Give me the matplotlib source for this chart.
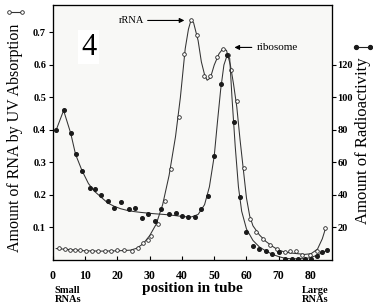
import matplotlib.pyplot as plt
from matplotlib.lines import Line2D

# open circles: RNA by UV absorption (left axis)
uv_x = [2, 3.7, 5.3, 6.8, 8.4, 10.1, 12, 14, 16, 18, 20, 22, 24.4, 26.4, 28, 29.5, 30.5, 32.6, 34.7,
        36.7, 39, 40.7, 42.7, 44.8, 46.8, 48.6, 51, 52.7, 54.3, 55.2, 57.1, 59.1, 61.1, 63.1, 65.2,
        67.3, 69.5, 71.8, 73.4, 75.3, 77.3, 79.6, 81.9, 84.4]
uv_y = [0.036, 0.033, 0.031, 0.031, 0.029, 0.026, 0.026, 0.027, 0.026, 0.026, 0.029, 0.029, 0.027,
        0.036, 0.052, 0.062, 0.075, 0.111, 0.18, 0.28, 0.44, 0.634, 0.737, 0.693, 0.567, 0.567,
        0.624, 0.65, 0.63, 0.586, 0.49, 0.282, 0.127, 0.086, 0.065, 0.046, 0.034, 0.025, 0.027,
        0.028, 0.015, 0.014, 0.026, 0.099]

# line drawn through the open circles
uv_curve_x = [1, 5, 10, 15, 20, 24, 26, 28, 30, 32, 34, 36, 38, 39.5, 41, 42, 42.8, 43.6, 45, 46,
              47, 47.8, 48.8, 50, 51.5, 52.7, 53.8, 55, 56, 57, 58, 59, 60, 61, 62, 64, 66, 68, 70,
              72, 74, 76, 78, 80, 82, 83.5, 84.6]
uv_curve_y = [0.035, 0.032, 0.028, 0.027, 0.028, 0.03, 0.036, 0.05, 0.075, 0.11, 0.17, 0.26, 0.38,
              0.5, 0.65, 0.71, 0.738, 0.73, 0.675, 0.61, 0.57, 0.553, 0.56, 0.6, 0.635, 0.65,
              0.645, 0.6, 0.54, 0.47, 0.37, 0.28, 0.19, 0.135, 0.105, 0.077, 0.057, 0.042, 0.03,
              0.024, 0.021, 0.019, 0.017, 0.019, 0.033, 0.065, 0.1]

# filled dots: radioactivity (right axis)
rad_x = [1, 3.5, 5.5, 7, 9, 11.5, 13, 15, 17, 19, 21, 23.5, 25.5, 27.5, 29.5, 31.5, 33.5, 36, 38, 40,
         42, 44, 46, 48, 50, 52, 54, 56, 58, 60, 62, 64, 66, 68, 70, 72, 74, 76, 78, 80, 82, 83.5, 85]
rad_y = [80, 92, 78, 65, 55, 44, 43.5, 40, 36, 31.7, 35.6, 31.5, 31.7, 26, 28.5, 24, 31.4, 28.3, 29,
         27.3, 26.4, 26.4, 31.4, 39.4, 63.8, 108, 126, 85, 38.5, 17, 8.6, 7, 5.6, 3.5, 4.6, 0.8,
         0.4, 0.8, 0.4, 0.8, 2.5, 5, 6]

rad_curve_x = [1, 3.3, 5.5, 7, 9, 11, 13, 15, 17, 19, 21, 23, 25, 27, 29, 31, 33, 35, 37, 39, 41, 43,
               45, 47, 48.5, 50, 51, 52, 53, 54, 54.8, 55.5, 56.5, 57.5, 58.5, 60, 62, 64, 66, 68,
               70, 72, 74, 76, 78, 80, 82, 84, 85.5]
rad_curve_y = [80, 92, 78, 65, 55, 47, 42, 38.5, 35, 33, 31.5, 30.5, 29.8, 29.3, 28.9, 28.5, 28.2,
               27.9, 27.5, 27, 26.6, 26.5, 28, 34, 45, 64, 85, 105, 120, 126, 124, 100, 70, 45, 30,
               19, 12, 8, 5.5, 3.5, 2, 1, 0.7, 0.7, 0.8, 1.5, 3, 5, 6.5]

x_ticks = [0, 10, 20, 30, 40, 50, 60, 70, 80]
left_ticks = [0.1, 0.2, 0.3, 0.4, 0.5, 0.6, 0.7]
right_ticks = [20, 40, 60, 80, 100, 120]

plt.rcParams["font.family"] = ["Liberation Serif", "DejaVu Serif"]

fig = plt.figure(figsize=(3.73, 3.04), dpi=100)
ax = fig.add_axes([0.142, 0.145, 0.748, 0.839])
ax.set_facecolor("#f8f8f6")

ax.plot(uv_curve_x, uv_curve_y, color="#333333", lw=0.75)
ax.plot(uv_x, uv_y, "o", ms=2.6, mfc="white", mec="#222222", mew=0.6)

ax.set_xlim(0, 86.5)
ax.set_ylim(0, 0.785)
ax.set_xticks(x_ticks)
ax.set_yticks(left_ticks)
ax.set_yticklabels([f"{v:.1f}" for v in left_ticks])
ax.tick_params(axis="y", direction="out", length=3, width=0.8, pad=2, labelsize=7.5)
ax.tick_params(axis="x", direction="in", length=3, width=0.8, pad=7, labelsize=8.5)
for lab in ax.get_xticklabels() + ax.get_yticklabels():
    lab.set_fontweight("bold")
for sp in ax.spines.values():
    sp.set_linewidth(0.9)
    sp.set_color("#222222")

ax2 = ax.twinx()
ax2.plot(rad_curve_x, rad_curve_y, color="#333333", lw=0.75)
ax2.plot(rad_x, rad_y, "o", ms=2.6, color="#1a1a1a")
ax2.set_ylim(0, 0.785 * 200)
ax2.set_yticks(right_ticks)
ax2.tick_params(axis="y", direction="out", length=3, width=0.8, pad=1, labelsize=7.5)
for lab in ax2.get_yticklabels():
    lab.set_fontweight("bold")

# annotations
ax.annotate("", xy=(41.6, 0.737), xytext=(28.5, 0.737),
            arrowprops=dict(arrowstyle="-|>", color="black", lw=0.8, mutation_scale=7))
ax.text(28.3, 0.737, "rRNA", ha="right", va="center", fontsize=7.5)
ax.annotate("", xy=(55.4, 0.654), xytext=(62.5, 0.654),
            arrowprops=dict(arrowstyle="-|>", color="black", lw=0.8, mutation_scale=7))
ax.text(63.2, 0.654, "ribosome", ha="left", va="center", fontsize=8)
ax.text(11.1, 0.655, "4", ha="center", va="center", fontsize=22,
        bbox=dict(facecolor="white", edgecolor="none", pad=2))

# axis labels
fig.text(0.040, 0.546, "Amount of RNA by UV Absorption", rotation=90, ha="center", va="center",
         fontsize=11.5)
fig.text(0.973, 0.536, "Amount of Radioactivity", rotation=90, ha="center", va="center",
         fontsize=12)
fig.text(0.517, 0.052, "position in tube", ha="center", va="center", fontsize=11, fontweight="bold")
fig.text(0.147, 0.058, "Small\nRNAs", ha="left", va="top", fontsize=7.5, fontweight="bold",
         linespacing=1.0)
fig.text(0.808, 0.058, "Large\nRNAs", ha="left", va="top", fontsize=7.5, fontweight="bold",
         linespacing=1.0)

# legend keys next to the axis labels
fig.add_artist(Line2D([0.024, 0.060], [0.962, 0.962], transform=fig.transFigure, color="#333333",
                      lw=0.8, marker="o", ms=2.6, mfc="white", mec="#222222", mew=0.6))
fig.add_artist(Line2D([0.955, 0.993], [0.845, 0.845], transform=fig.transFigure, color="#222222",
                      lw=0.8, marker="o", ms=2.8, mfc="#1a1a1a", mec="#1a1a1a"))

fig.savefig("out.png", dpi=100)
